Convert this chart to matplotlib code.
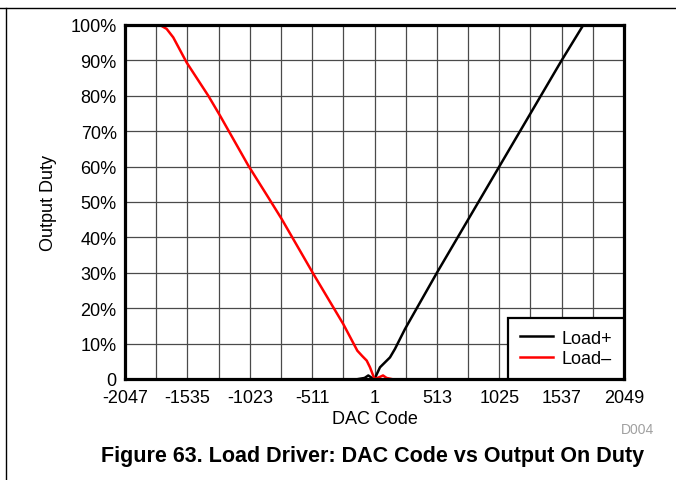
import matplotlib
matplotlib.use("Agg")
import matplotlib.pyplot as plt
from matplotlib.lines import Line2D
from matplotlib.ticker import FixedLocator

plt.rcParams['font.family'] = ['Liberation Sans', 'DejaVu Sans']

# Load+ : duty vs DAC code (positive side)
load_plus_code = [-130, -80, -50, -20, 1, 46, 87, 128, 169, 251, 513, 769, 1025, 1281, 1537, 1715]
load_plus_duty = [0, 0.3, 1.0, 0.3, 0, 3.3, 4.7, 6.1, 8.5, 14.1, 30, 45, 60, 75, 90, 100]

# Load– : duty vs DAC code (negative side)
load_minus_code = [-1760, -1705, -1651, -1541, -1363, -1267, -1035, -871, -761, -501,
                   -255, -140, -100, -63, -36, 1, 40, 71, 100, 140]
load_minus_duty = [100, 98.9, 96.5, 89.4, 80, 74.4, 60.3, 51.3, 45.2, 29.7,
                   15.5, 8.0, 6.5, 5.2, 3.3, 0, 0.5, 1.0, 0.3, 0]

x_ticks = [-2047, -1535, -1023, -511, 1, 513, 1025, 1537, 2049]
x_tick_labels = ['-2047', '-1535', '-1023', '-511', '1', '513', '1025', '1537', '2049']
y_ticks = [0, 10, 20, 30, 40, 50, 60, 70, 80, 90, 100]
y_tick_labels = ['0', '10%', '20%', '30%', '40%', '50%', '60%', '70%', '80%', '90%', '100%']

W, H = 676, 481
fig = plt.figure(figsize=(W / 100, H / 100), dpi=100)
ax = fig.add_axes([125 / W, (H - 380) / H, 499 / W, 354 / H])

ax.plot(load_plus_code, load_plus_duty, color='black', lw=1.8, label='Load+', zorder=3)
ax.plot(load_minus_code, load_minus_duty, color='#ff0000', lw=1.8, label='Load\u2013', zorder=3)

ax.set_xlim(-2047, 2049)
ax.set_ylim(0, 100)
ax.set_xticks(x_ticks)
ax.set_xticklabels(x_tick_labels)
ax.xaxis.set_minor_locator(FixedLocator([-2047 + 256 * i for i in range(17)]))
ax.set_yticks(y_ticks)
ax.set_yticklabels(y_tick_labels)
ax.grid(True, which='both', axis='x', color='#4a4a4a', lw=0.9)
ax.grid(True, which='major', axis='y', color='#4a4a4a', lw=0.9)
ax.set_axisbelow(True)
ax.tick_params(which='both', length=0, labelsize=13, colors='black')
ax.tick_params(axis='x', pad=7)
ax.tick_params(axis='y', pad=6)

for s in ax.spines.values():
    s.set_linewidth(2.3)
    s.set_zorder(4)

ax.set_xlabel('DAC Code', fontsize=13, labelpad=3)
ax.set_ylabel('Output Duty', fontsize=13, labelpad=10)

leg = ax.legend(loc='lower right', fontsize=13, fancybox=False, framealpha=1,
                edgecolor='black', borderaxespad=0, handlelength=1.8,
                handletextpad=0.5, labelspacing=0.2, borderpad=0.65)
leg.get_frame().set_linewidth(1.6)
leg.set_zorder(5)

fig.text(654 / W, 1 - 430 / H, 'D004', fontsize=10, color='#a0a0a0', ha='right', va='center')
fig.text(373 / W, 1 - 457 / H, 'Figure 63. Load Driver: DAC Code vs Output On Duty',
         fontsize=15.5, fontweight='bold', ha='center', va='center')

# page frame lines
fig.add_artist(Line2D([0, 1], [1 - 9 / H, 1 - 9 / H], color='black', lw=1.0, transform=fig.transFigure))
fig.add_artist(Line2D([5.5 / W, 5.5 / W], [0, 1 - 9 / H], color='black', lw=1.0, transform=fig.transFigure))

fig.savefig('out.png', dpi=100)
